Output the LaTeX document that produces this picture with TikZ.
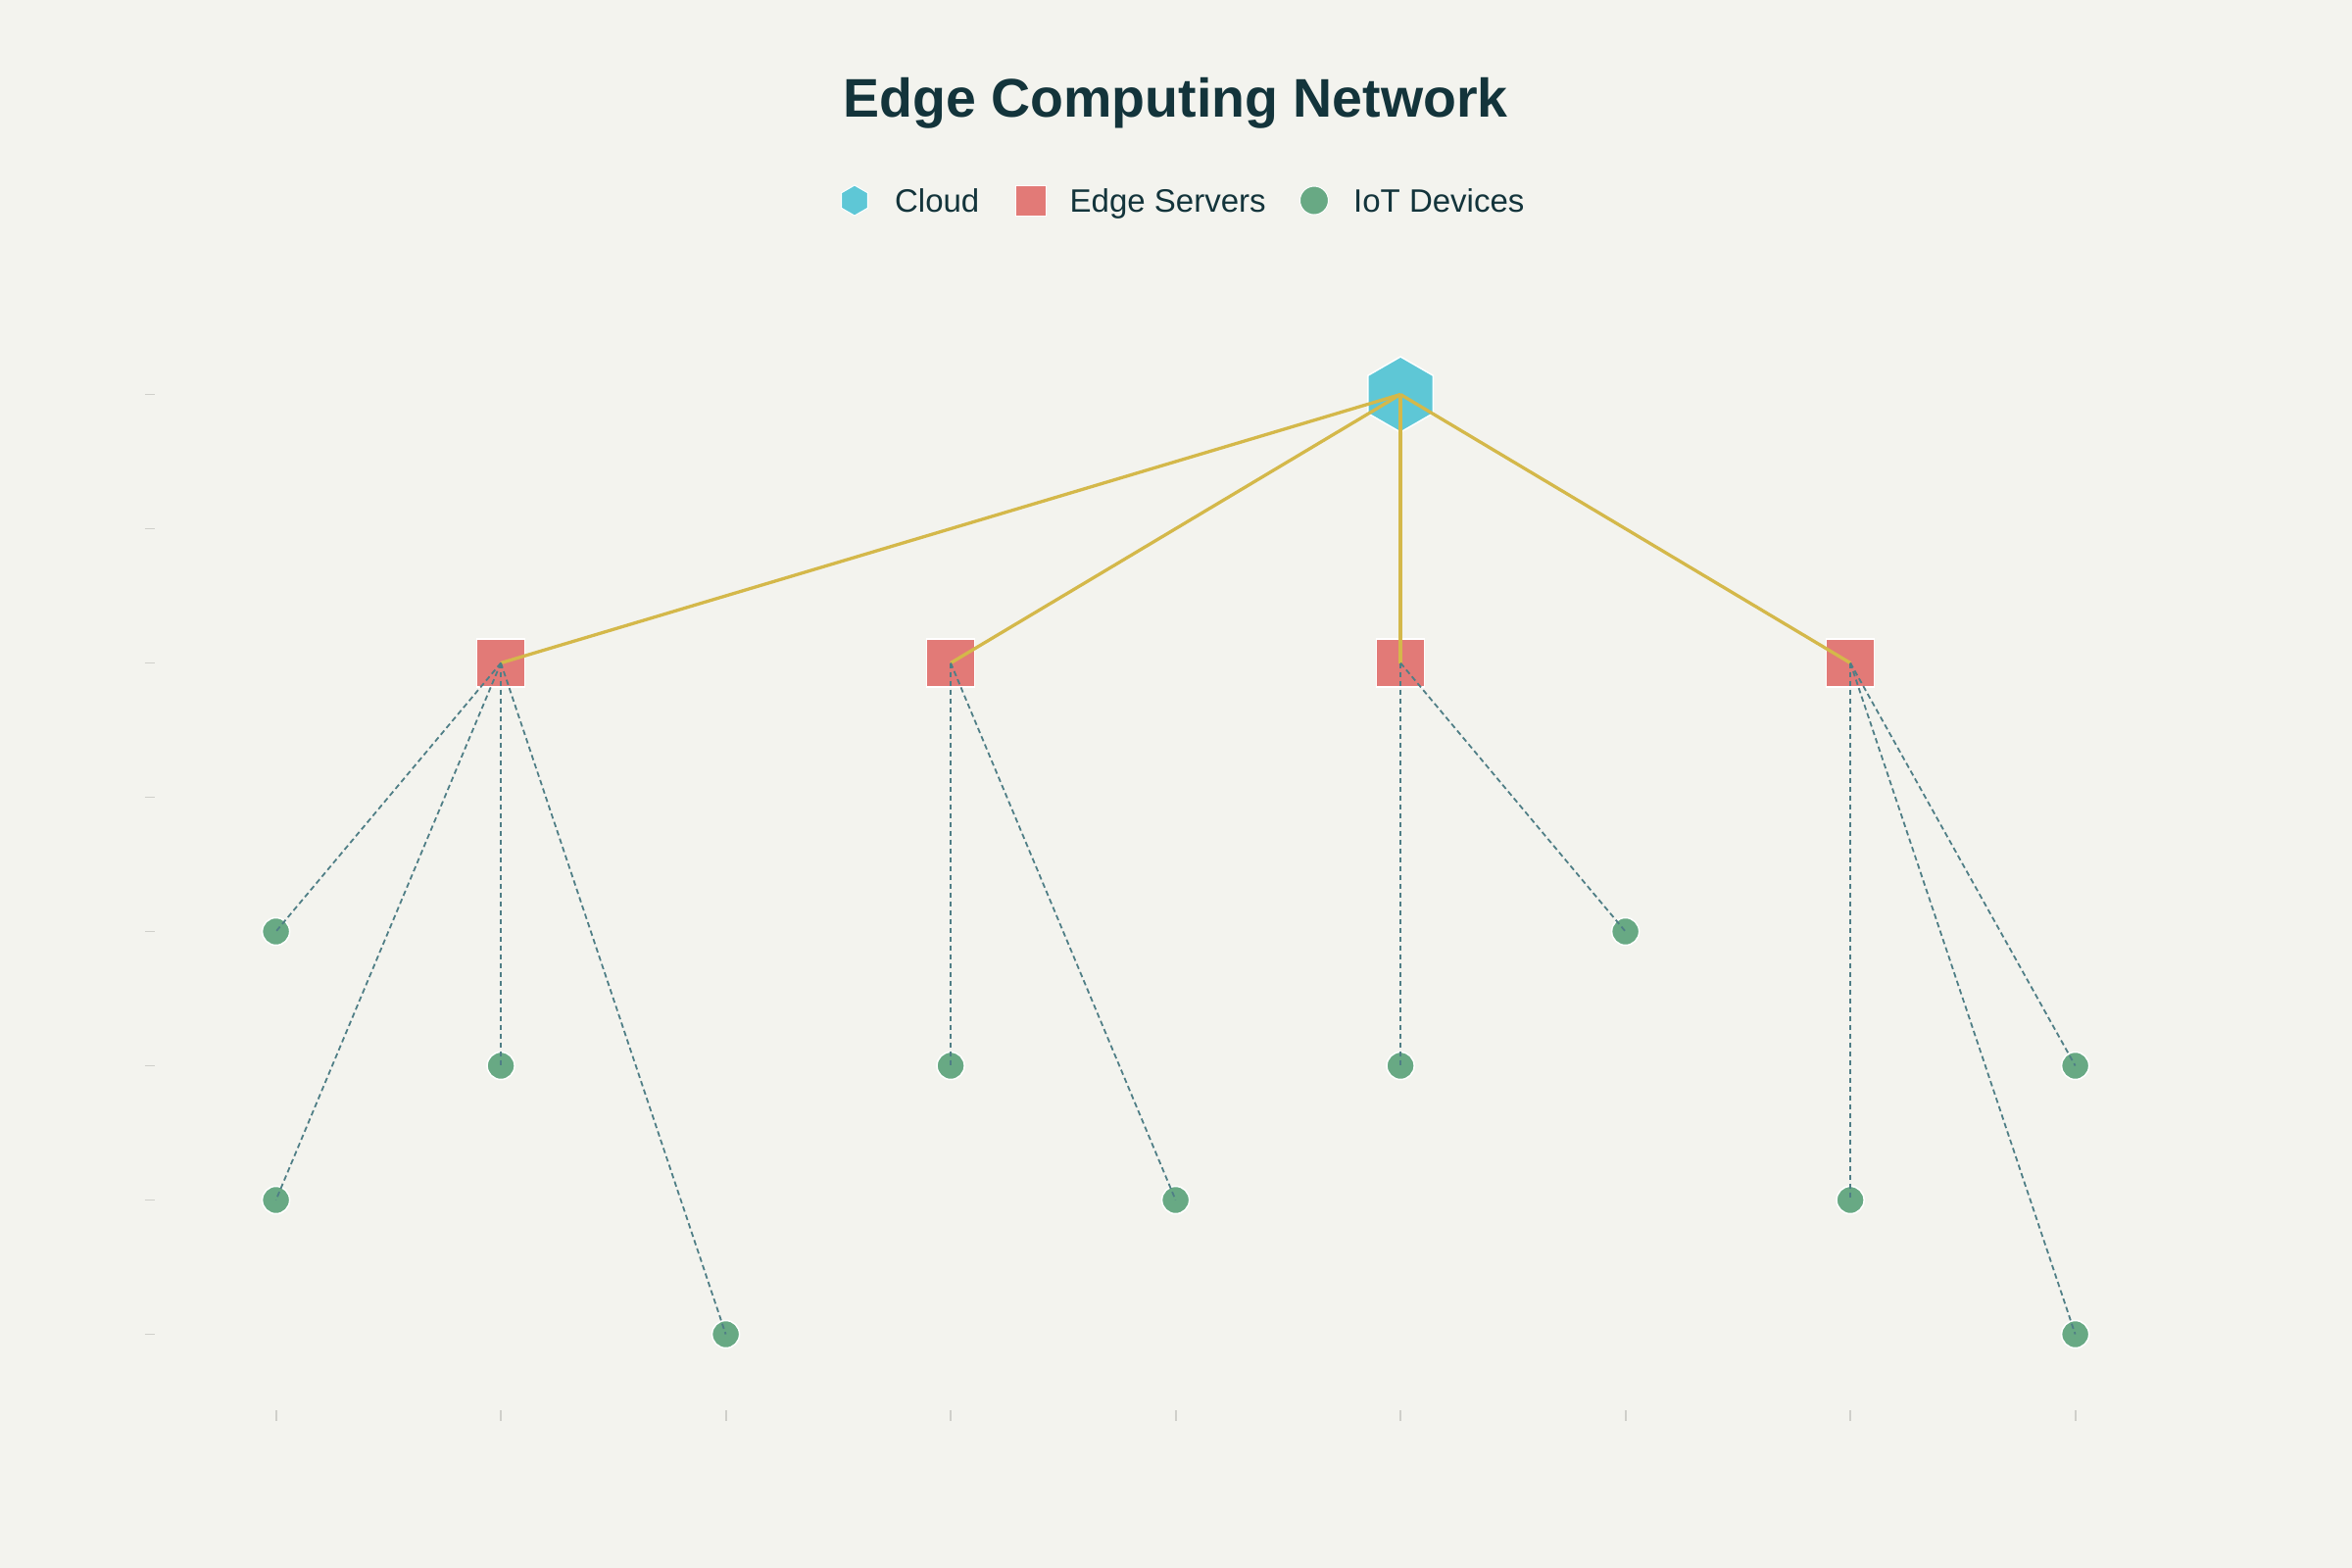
\documentclass[tikz,border=0pt]{standalone}
\usepackage{fontspec}
\setmainfont{Liberation Sans}
\usetikzlibrary{shapes.geometric, positioning}
\definecolor{bgpaper}{HTML}{F3F3EE}
\definecolor{cloudcol}{HTML}{5EC7D6}
\definecolor{edgecol}{HTML}{E27A77}
\definecolor{iotcol}{HTML}{68A984}
\definecolor{uplinkcol}{HTML}{D4B84A}
\definecolor{downlinkcol}{HTML}{4F7E86}
\definecolor{inkcol}{HTML}{13343B}
\definecolor{tickcol}{HTML}{CFCFCA}
\tikzset{
	netnode/.style = {inner sep=0pt, draw=white, line width=1.5pt},
	cloudnode/.style = {netnode, regular polygon, regular polygon sides=6, shape border rotate=30, fill=cloudcol, minimum size=77pt},
	edgenode/.style = {netnode, rectangle, fill=edgecol, minimum size=49pt},
	iotnode/.style = {netnode, circle, fill=iotcol, minimum size=28pt},
	uplink/.style = {uplinkcol, line width=3.3pt},
	downlink/.style = {downlinkcol, line width=1.8pt, dash pattern=on 5.5pt off 3.5pt},
	tickmark/.style = {tickcol, line width=1.8pt},
	legtext/.style = {inner sep=0pt, text depth=0pt, text height=23pt, text=inkcol, font=\fontsize{33}{40}\selectfont}
}
\begin{document}
\begin{tikzpicture}[x=229.5pt, y=-137pt]
		\fill[bgpaper] (-1.22702,-2.93796) rectangle (9.23050,8.74088);
		\node [anchor=base, text=inkcol, font=\fontsize{55.5}{67}\selectfont\bfseries] (title) at (4,-2.067) {Edge Computing Network};
		\node [cloudnode, minimum size=31pt, line width=1pt] (legcloud) at (2.5725,-1.445) {};
		\node [legtext, right=27pt of legcloud] (legcloudtxt) {Cloud};
		\node [edgenode, minimum size=31pt, line width=1pt] (legedge) at (3.3547,-1.445) {};
		\node [legtext, right=24pt of legedge] (legedgetxt) {Edge Servers};
		\node [iotnode, minimum size=29pt, line width=1pt] (legiot) at (4.6160,-1.445) {};
		\node [legtext, right=25pt of legiot] (legiottxt) {IoT Devices};
		\foreach \c in {0,...,8}
			\draw[tickmark] (\c,7.566) -- (\c,7.646);
		\foreach \r in {0,...,7}
			\draw[tickmark] (-0.5825,\r) -- (-0.539,\r);
		\node [cloudnode] (cloud) at (5,0) {};
		\foreach \n/\c in {1/1, 2/3, 3/5, 4/7}
			\node [edgenode] (edge\n) at (\c,2) {};
		\foreach \n/\c/\r in {1/0/4, 2/0/6, 3/1/5, 4/2/7, 5/3/5, 6/4/6, 7/5/5, 8/6/4, 9/7/6, 10/8/5, 11/8/7}
			\node [iotnode] (iot\n) at (\c,\r) {};
		\foreach \n in {1,...,4}
			\draw[uplink] (cloud.center) -- (edge\n.center);
		\foreach \e/\d in {1/1, 1/2, 1/3, 1/4, 2/5, 2/6, 3/7, 3/8, 4/9, 4/10, 4/11}
			\draw[downlink] (edge\e.center) -- (iot\d.center);
\end{tikzpicture}
\end{document}
